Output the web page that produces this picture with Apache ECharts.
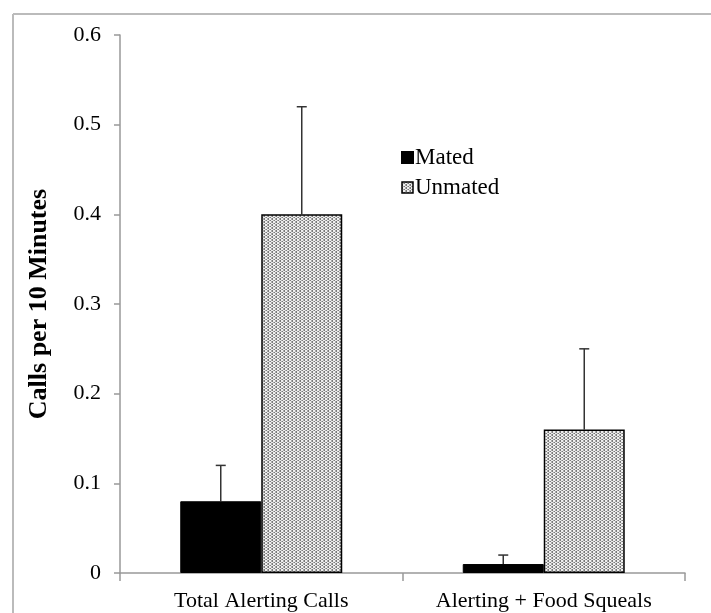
<!DOCTYPE html>
<html><head><meta charset="utf-8">
<script src="https://cdn.jsdelivr.net/npm/echarts@6/dist/echarts.min.js"></script>
<style>html,body{margin:0;padding:0;background:#fff}#c{width:711px;height:613px}</style>
</head><body><div id="c"></div>
<script>
const categories = ['Total Alerting Calls', 'Alerting + Food Squeals'];
const matedValues = [0.08, 0.01];
const matedErrors = [0.04, 0.01];
const unmatedValues = [0.40, 0.16];
const unmatedErrors = [0.12, 0.09];
const yTicks = [0, 0.1, 0.2, 0.3, 0.4, 0.5, 0.6];

function makePattern() {
  const c = document.createElement('canvas');
  c.width = 4; c.height = 3;
  const g = c.getContext('2d');
  g.fillStyle = '#eeeeee'; g.fillRect(0, 0, 4, 3);
  g.fillStyle = '#7a7a7a';
  g.fillRect(0, 0, 1, 1); g.fillRect(2, 1, 1, 1); g.fillRect(0, 2, 1, 1);
  g.fillStyle = '#aaaaaa';
  g.fillRect(1, 1, 1, 1); g.fillRect(3, 0, 1, 1); g.fillRect(3, 2, 1, 1);
  return c;
}
const pattern = { image: makePattern(), repeat: 'repeat' };

const font = 'Liberation Serif';
const chart = echarts.init(document.getElementById('c'), null, {renderer: 'canvas'});

function errItem(offset) {
  return function (params, api) {
    const i = api.value(0);
    const top = api.coord([i, api.value(2)]);
    const base = api.coord([i, api.value(1)]);
    const x = top[0] + offset;
    return {
      type: 'group',
      children: [
        {type: 'line', shape: {x1: x, y1: base[1], x2: x, y2: top[1]}, style: {stroke: '#333', lineWidth: 1.5}},
        {type: 'line', shape: {x1: x - 5, y1: top[1], x2: x + 5, y2: top[1]}, style: {stroke: '#333', lineWidth: 1.5}}
      ]
    };
  };
}

const option = {
  animation: false,
  backgroundColor: '#fff',
  graphic: [
    {type: 'line', shape: {x1: 13, y1: 14, x2: 711, y2: 14}, style: {stroke: '#bbb', lineWidth: 2}},
    {type: 'line', shape: {x1: 13, y1: 14, x2: 13, y2: 613}, style: {stroke: '#bbb', lineWidth: 2}}
  ],
  grid: {left: 120, right: 26, top: 35, bottom: 40},
  legend: {
    orient: 'vertical', left: 396, top: 141, itemGap: 7,
    itemWidth: 11, itemHeight: 11,
    textStyle: {fontFamily: font, fontSize: 23, color: '#000', padding: [0, 0, 0, -3]},
    data: [
      {name: 'Mated', icon: 'rect'},
      {name: 'Unmated', icon: 'rect', itemStyle: {borderColor: '#000', borderWidth: 1.5}}
    ]
  },
  xAxis: {
    type: 'category', data: categories,
    axisLine: {lineStyle: {color: '#999', width: 1.5}},
    axisTick: {show: true, length: 8, lineStyle: {color: '#999', width: 1.5}},
    axisLabel: {fontFamily: font, fontSize: 22, color: '#000', margin: 17}
  },
  yAxis: {
    type: 'value', min: 0, max: 0.6, interval: 0.1,
    name: 'Calls per 10 Minutes', nameLocation: 'middle', nameGap: 68,
    nameTextStyle: {fontFamily: font, fontSize: 26, fontWeight: 'bold', color: '#000'},
    axisLine: {show: true, lineStyle: {color: '#999', width: 1.5}},
    axisTick: {show: true, length: 6, lineStyle: {color: '#999', width: 1.5}},
    splitLine: {show: false},
    axisLabel: {fontFamily: font, fontSize: 22, color: '#000', margin: 19,
      formatter: v => { const t = yTicks.find(x => Math.abs(x - v) < 1e-9); return t === 0 ? '0' : t.toFixed(1); }}
  },
  series: [
    {name: 'Mated', type: 'bar', barWidth: 81, barGap: '0%', data: matedValues,
      itemStyle: {color: '#000', borderColor: '#000', borderWidth: 1}},
    {name: 'Unmated', type: 'bar', barWidth: 81, barGap: '0%', data: unmatedValues,
      itemStyle: {color: pattern, borderColor: '#000', borderWidth: 1.5}},
    {type: 'custom', z: 1, renderItem: errItem(-40.5),
      data: matedValues.map((v, i) => [i, v, v + matedErrors[i]])},
    {type: 'custom', z: 1, renderItem: errItem(40.5),
      data: unmatedValues.map((v, i) => [i, v, v + unmatedErrors[i]])}
  ]
};
chart.setOption(option);
</script></body></html>
